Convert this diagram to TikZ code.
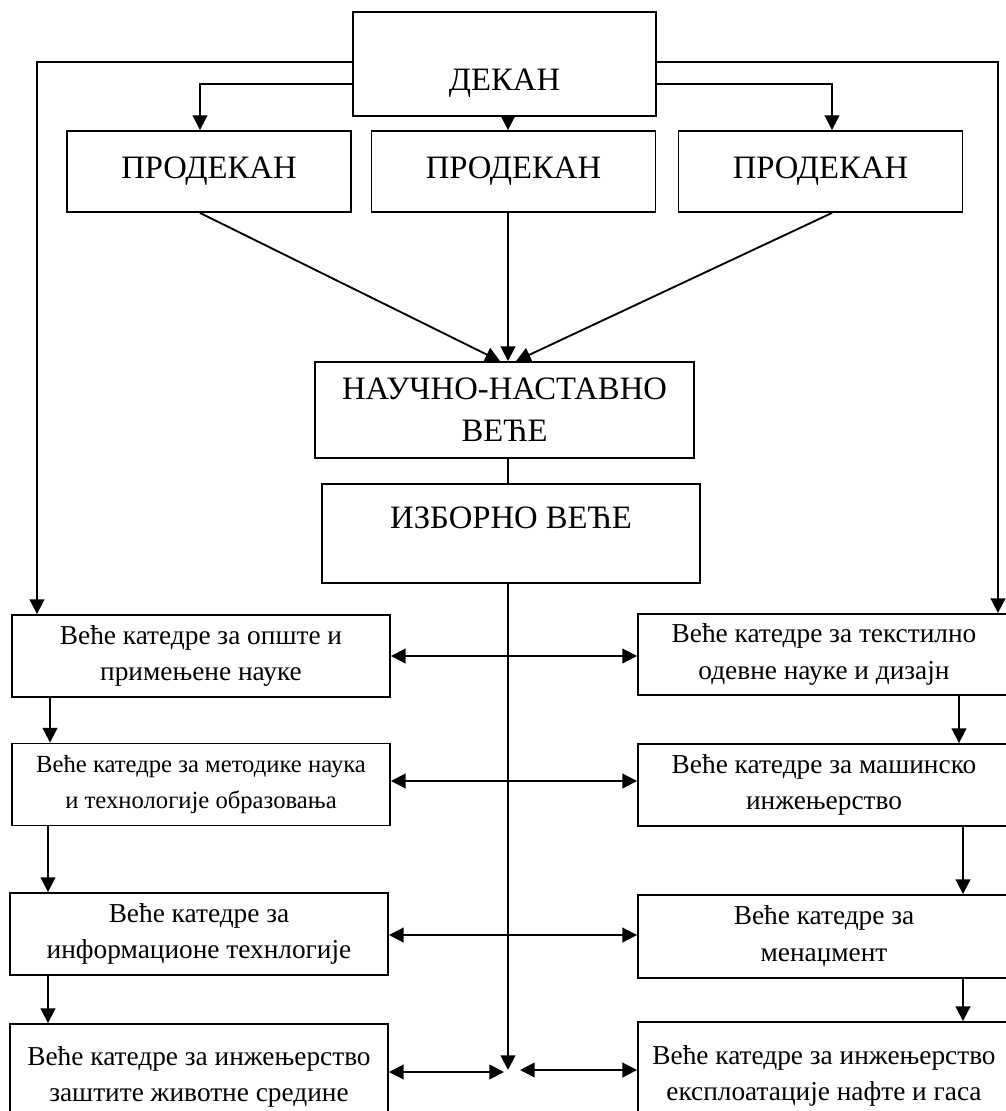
\documentclass[tikz,border=0pt]{standalone}
\usepackage{fontspec}
\setmainfont{Liberation Serif}
\usetikzlibrary{arrows.meta}
\begin{document}
\begin{tikzpicture}[x=0.75pt,y=-0.75pt,>={Triangle[length=11pt,width=11pt]},line width=1.4pt,
	box/.style={draw,rectangle,align=center,inner sep=0pt},
	big/.style={box,font=\fontsize{24.5}{31.5}\selectfont},
	small/.style={box,font=\fontsize{20.5}{27.5}\selectfont,minimum width=283.5pt,minimum height=61.5pt}]
	\useasboundingbox (0,0) rectangle (1006,1111);
	\node[big,minimum width=227.25pt,minimum height=78pt] (dekan) at (504.5,64) {\strut\\[-8pt]ДЕКАН};
	\node[big,minimum width=213pt,minimum height=60.75pt] (pd1) at (209,171.5) {ПРОДЕКАН};
	\node[big,minimum width=213pt,minimum height=60.75pt] (pd2) at (513.5,171.5) {ПРОДЕКАН};
	\node[big,minimum width=213pt,minimum height=60.75pt] (pd3) at (820.5,171.5) {ПРОДЕКАН};
	\node[big,minimum width=284.25pt,minimum height=72pt] (nnv) at (504.5,410) {НАУЧНО-НАСТАВНО\\ВЕЋЕ};
	\node[big,minimum width=283.5pt,minimum height=74.25pt] (izb) at (511,533.5) {ИЗБОРНО ВЕЋЕ\\[-17pt]\strut};
	\node[small] (L1) at (201,656) {Веће катедре за опште и\\примењене науке};
	\node[small,font=\fontsize{18.5}{27.5}\selectfont] (L2) at (201,784.5) {Веће катедре за методике наука\\и технологије образовања};
	\node[small] (L3) at (199,934) {Веће катедре за\\информационе технлогије};
	\node[small,minimum height=79.5pt] (L4) at (199,1077) {Веће катедре за инжењерство\\заштите животне средине};
	\node[small,minimum width=279pt,minimum height=60.75pt] (R1) at (824,654.5) {Веће катедре за текстилно\\одевне науке и дизајн};
	\node[small,minimum width=279pt] (R2) at (824,785) {Веће катедре за машинско\\инжењерство};
	\node[small,minimum width=279pt,minimum height=62.25pt] (R3) at (824,936.5) {Веће катедре за\\менаџмент};
	\node[small,minimum width=279pt,minimum height=81pt] (R4) at (824,1076) {Веће катедре за инжењерство\\експлоатације нафте и гаса};
	\coordinate (bot) at (508,1070);
	\coordinate (gl) at (504,1072);
	\coordinate (gr) at (520,1070);
	\draw[->] (dekan.west |- 0,62) -| (L1.north -| 37,0);
	\draw[->] (dekan.west |- 0,84) -| (pd1.north -| 200,0);
	\draw[->] (dekan.east |- 0,62) -| (R1.north -| 998,0);
	\draw[->] (dekan.east |- 0,84) -| (pd3.north -| 832,0);
	\draw[->] (dekan.south -| 508,0) -- (pd2.north -| 508,0);
	\draw[->] (pd1.south -| 200,0) -- (nnv.north -| 500,0);
	\draw[->] (pd2.south -| 508,0) -- (nnv.north -| 508,0);
	\draw[->] (pd3.south -| 832,0) -- (nnv.north -| 516,0);
	\draw (nnv.south -| 508,0) -- (izb.north -| 508,0);
	\draw[->] (izb.south -| 508,0) -- (bot);
	\draw[<->] (L1.east) -- (R1.west |- L1.east);
	\draw[<->] (L2.east |- 0,781) -- (R2.west |- 0,781);
	\draw[<->] (L3.east |- 0,935) -- (R3.west |- 0,935);
	\draw[<->] (L4.east |- gl) -- (gl);
	\draw[<->] (gr) -- (R4.west |- gr);
	\draw[->] (L1.south -| 50,0) -- (L2.north -| 50,0);
	\draw[->] (L2.south -| 48,0) -- (L3.north -| 48,0);
	\draw[->] (L3.south -| 48,0) -- (L4.north -| 48,0);
	\draw[->] (R1.south -| 959,0) -- (R2.north -| 959,0);
	\draw[->] (R2.south -| 963,0) -- (R3.north -| 963,0);
	\draw[->] (R3.south -| 963,0) -- (R4.north -| 963,0);
\end{tikzpicture}
\end{document}
